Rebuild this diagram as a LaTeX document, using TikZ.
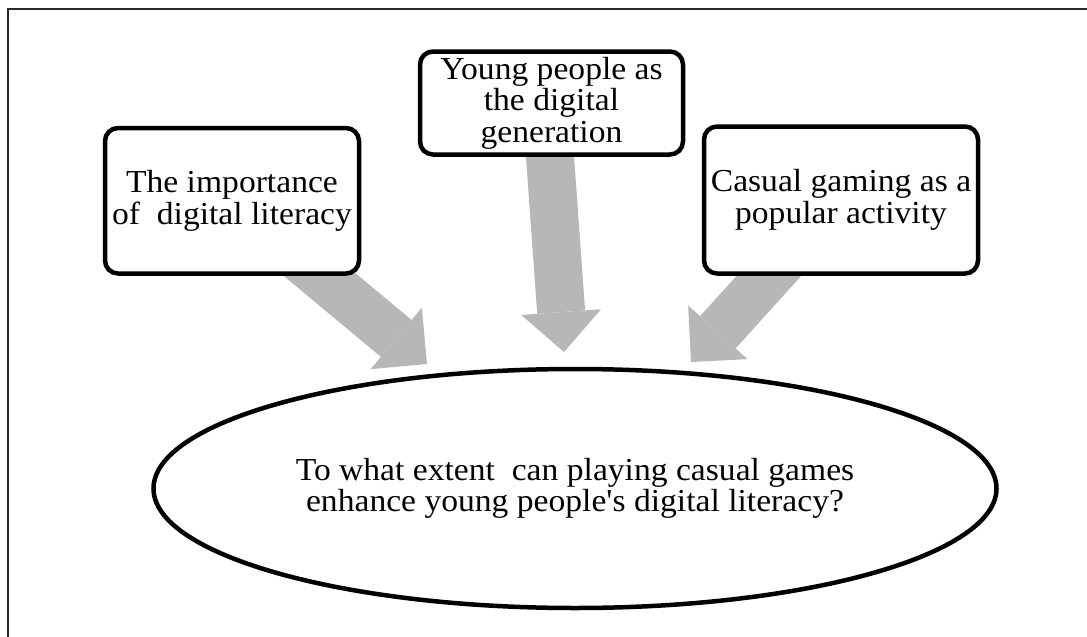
\documentclass[tikz,border=0pt]{standalone}
\usepackage{fontspec}
\setmainfont{Liberation Serif}[Ligatures=TeXOff,FakeStretch=1.05]
\usetikzlibrary{arrows.meta,backgrounds,shapes.geometric,calc}
\definecolor{arrowgray}{HTML}{B7B7B7}
\definecolor{framegray}{HTML}{2A2A2A}
\begin{document}
\begin{tikzpicture}[x=1pt,y=-1pt,
  frame/.style={draw=framegray,line width=1.7pt},
  topic/.style={draw=black,line width=4.5pt,rounded corners=13pt,fill=white,
    align=center,inner sep=0pt,font=\fontsize{32}{31.5}\selectfont},
  question/.style={draw=black,ellipse,line width=4.5pt,fill=white,
    align=center,inner sep=0pt,font=\fontsize{32}{31.5}\selectfont},
  flow/.style={draw=arrowgray,line width=48pt,
    -{Triangle[width=80pt,length=40pt,line width=0pt]}}]
\useasboundingbox (0,0) rectangle (1087,637);
\begin{scope}[on background layer]
  \fill[white] (0,0) rectangle (1087,637);
\end{scope}
% page frame: top and left rules only
\draw[frame] (1087,9) -- (8,9) -- (8,637);

% the three topics
\node[topic,minimum width=254pt,minimum height=145.5pt] (b1) at (232,200.75)
  {The importance\\of~ digital literacy};
\node[topic,minimum width=263pt,minimum height=103pt] (b2) at (551.5,103)
  {Young people as\\the digital\\generation};
\node[topic,minimum width=274pt,minimum height=147pt] (b3) at (841,200)
  {Casual gaming as a\\popular activity};

% the research question
\node[question,minimum width=843pt,minimum height=239pt] (q) at (575,488.5)
  {To what extent~ can playing casual games\\enhance young people's digital literacy?};

% arrow heads end just above the ellipse
\coordinate (t1) at (427,364);
\coordinate (t2) at (564,352);
\coordinate (t3) at (691,362);

\begin{scope}[on background layer]
  \draw[flow] ($(t1)!1.2!([xshift=89pt]b1.south)$) -- (t1);
  \draw[flow] ($(t2)!1.2!([xshift=-1.5pt]b2.south)$) -- (t2);
  \draw[flow] ($(t3)!1.2!([xshift=-72pt]b3.south)$) -- (t3);
\end{scope}
\end{tikzpicture}
\end{document}
